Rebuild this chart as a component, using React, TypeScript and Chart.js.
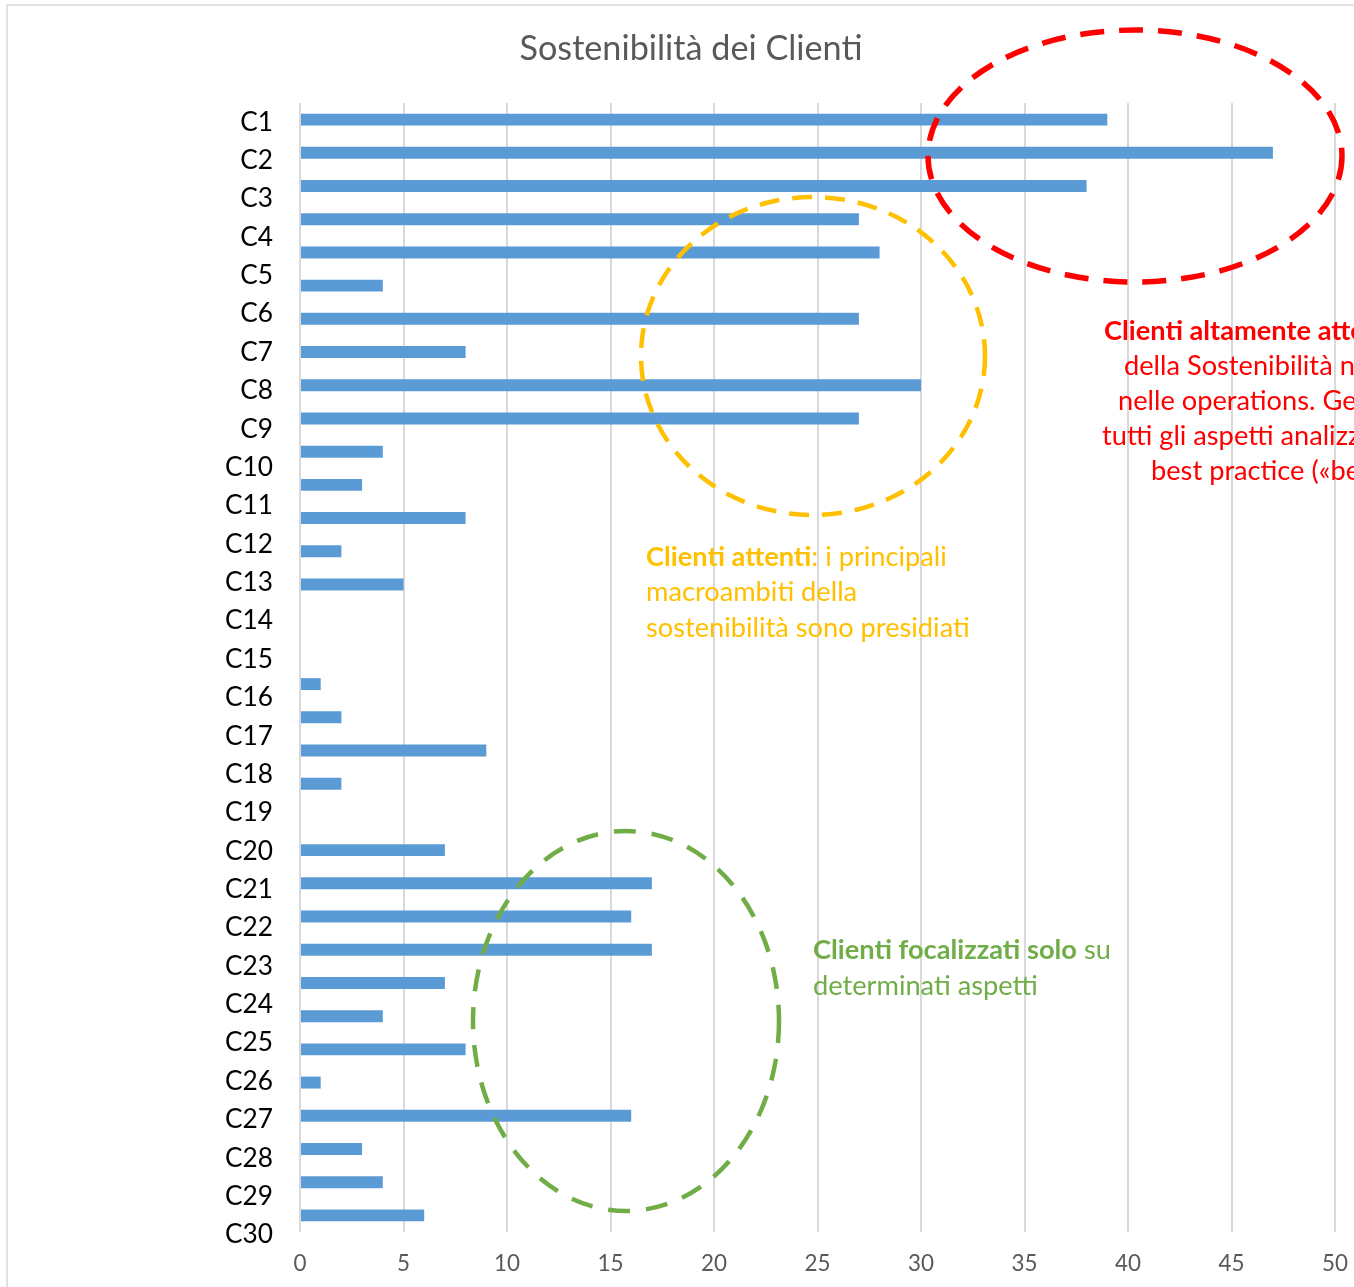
import React, { useEffect, useRef } from "react";
import { Chart, registerables } from "chart.js";

Chart.register(...registerables);

// ---- data ----
const chartTitle = "Sostenibilità dei Clienti";
const clientLabels = [
  "C1", "C2", "C3", "C4", "C5", "C6", "C7", "C8", "C9", "C10",
  "C11", "C12", "C13", "C14", "C15", "C16", "C17", "C18", "C19", "C20",
  "C21", "C22", "C23", "C24", "C25", "C26", "C27", "C28", "C29", "C30",
];
const barSlots = [
  "1", "2", "3", "4", "5", "6", "7", "8", "9", "10", "11", "12",
  "13", "14", "15", "16", "17", "18", "19", "20", "21", "22", "23", "24",
  "25", "26", "27", "28", "29", "30", "31", "32", "33", "34",
];
const barValues = [
  39, 47, 38, 27, 28, 4, 27, 8, 30, 27, 4, 3,
  8, 2, 5, 0, 0, 1, 2, 9, 2, 0, 7, 17,
  16, 17, 7, 4, 8, 1, 16, 3, 4, 6,
];
const xMin = 0;
const xMax = 50;
const xStep = 5;

const redNote = [
  [{ t: "Clienti altamente attenti", b: true }, { t: " ai temi", b: false }],
  [{ t: "della Sostenibilità nel business e", b: false }],
  [{ t: "nelle operations. Gestiscono", b: false }],
  [{ t: "tutti gli aspetti analizzati secondo", b: false }],
  [{ t: "best practice («benchmark»)", b: false }],
];
const yellowNote = [
  [{ t: "Clienti attenti", b: true }, { t: ": i principali", b: false }],
  [{ t: "macroambiti della", b: false }],
  [{ t: "sostenibilità sono presidiati", b: false }],
];
const greenNote = [
  [{ t: "Clienti focalizzati solo", b: true }, { t: " su", b: false }],
  [{ t: "determinati aspetti", b: false }],
];

const FONT = "Lato, 'Open Sans', sans-serif";

function fitSize(ctx: CanvasRenderingContext2D, text: string, weight: string, target: number) {
  ctx.font = `${weight} 100px ${FONT}`;
  return (100 * target) / ctx.measureText(text).width;
}

function drawRich(
  ctx: CanvasRenderingContext2D,
  lines: { t: string; b: boolean }[][],
  x0: number | number[],
  y0: number,
  lh: number,
  size: number,
  color: string
) {
  ctx.fillStyle = color;
  ctx.textBaseline = "middle";
  ctx.textAlign = "left";
  lines.forEach((segs, i) => {
    let x = Array.isArray(x0) ? x0[i] : x0;
    const y = y0 + i * lh;
    segs.forEach((s) => {
      ctx.font = `${s.b ? "bold" : "normal"} ${size}px ${FONT}`;
      ctx.fillText(s.t, x, y);
      x += ctx.measureText(s.t).width;
    });
  });
}

function ellipse(
  ctx: CanvasRenderingContext2D,
  cx: number, cy: number, rx: number, ry: number,
  color: string, w: number, dash: number[]
) {
  ctx.save();
  ctx.strokeStyle = color;
  ctx.lineWidth = w;
  ctx.setLineDash(dash);
  ctx.beginPath();
  ctx.ellipse(cx, cy, rx, ry, 0, 0, Math.PI * 2);
  ctx.stroke();
  ctx.restore();
}

const overlay = {
  id: "overlay",
  beforeDraw(chart: any) {
    const ctx: CanvasRenderingContext2D = chart.ctx;
    ctx.save();
    ctx.fillStyle = "#ffffff";
    ctx.fillRect(0, 0, chart.width, chart.height);
    ctx.strokeStyle = "#d9d9d9";
    ctx.lineWidth = 1.5;
    ctx.beginPath();
    ctx.moveTo(7, chart.height + 2);
    ctx.lineTo(7, 5);
    ctx.lineTo(chart.width + 2, 5);
    ctx.stroke();
    ctx.restore();
  },
  afterDraw(chart: any) {
    const ctx: CanvasRenderingContext2D = chart.ctx;
    ctx.save();
    // title
    const ts = fitSize(ctx, chartTitle, "normal", 343);
    ctx.font = `normal ${ts}px ${FONT}`;
    ctx.fillStyle = "#595959";
    ctx.textAlign = "center";
    ctx.textBaseline = "middle";
    ctx.fillText(chartTitle, 691, 49);

    // client labels
    const ls = fitSize(ctx, "C10", "normal", 48);
    ctx.font = `normal ${ls}px ${FONT}`;
    ctx.fillStyle = "#000000";
    ctx.textAlign = "right";
    const top = 102;
    const bottom = 1253;
    const step = (bottom - top) / clientLabels.length;
    clientLabels.forEach((l, i) => {
      ctx.fillText(l, 273, top + (i + 0.5) * step + 1);
    });

    // ellipses
    ellipse(ctx, 1135, 156, 207, 126, "#FF0000", 5.5, [24, 15]);
    ellipse(ctx, 813, 356, 172, 159, "#FFC000", 4.5, [20, 13]);
    ellipse(ctx, 626, 1021, 153, 190, "#70AD47", 4.5, [22, 16]);

    // notes
    const ns = fitSize(ctx, "sostenibilità sono presidiati", "normal", 324);
    drawRich(ctx, redNote, [1104, 1124, 1118, 1102, 1151], 331, 35, ns, "#FF0000");
    drawRich(ctx, yellowNote, 646, 557, 35.5, ns, "#FFC000");
    drawRich(ctx, greenNote, 813, 950, 36, ns, "#70AD47");
    ctx.restore();
  },
};

export default function App() {
  const ref = useRef<HTMLCanvasElement | null>(null);

  useEffect(() => {
    if (!ref.current) return;
    const m = document.createElement("canvas").getContext("2d")!;
    const tickSize = fitSize(m, "50", "normal", 26);
    const chart = new Chart(ref.current, {
      type: "bar",
      data: {
        labels: barSlots,
        datasets: [
          {
            data: barValues,
            backgroundColor: "#5B9BD5",
            borderWidth: 0,
            barPercentage: 0.36,
            categoryPercentage: 1,
          },
        ],
      },
      options: {
        indexAxis: "y",
        responsive: false,
        animation: false,
        events: [],
        layout: { padding: { left: 300, right: 19, top: 103, bottom: 0 } },
        plugins: {
          legend: { display: false },
          title: { display: false },
          tooltip: { enabled: false },
        },
        scales: {
          x: {
            type: "linear",
            position: "bottom",
            min: xMin,
            max: xMax,
            afterFit: (scale: any) => {
              scale.height = 55;
              scale.paddingLeft = 0;
              scale.paddingRight = 0;
            },
            ticks: {
              stepSize: xStep,
              color: "#595959",
              font: { family: FONT, size: tickSize },
              padding: 18,
            },
            grid: { color: "#d9d9d9", lineWidth: 2, drawTicks: false },
            border: { display: false },
          },
          y: {
            type: "category",
            display: false,
            grid: { display: false },
          },
        },
      },
      plugins: [overlay],
    });
    return () => chart.destroy();
  }, []);

  return (
    <div style={{ position: "absolute", left: 0, top: 0, width: 1354, height: 1287 }}>
      <canvas ref={ref} width={1354} height={1287} style={{ width: 1354, height: 1287, display: "block" }} />
    </div>
  );
}
